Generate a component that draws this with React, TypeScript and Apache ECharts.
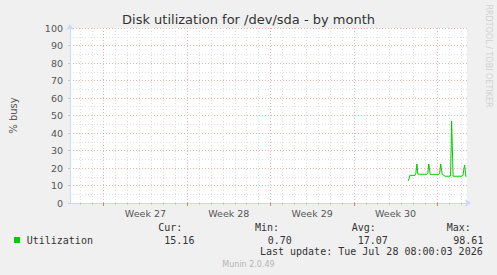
import React, { useEffect, useRef } from "react";
import * as echarts from "echarts";

const chartTitle = "Disk utilization for /dev/sda - by month";
const yAxisName = "% busy";
const weekLabels = ["Week 27", "Week 28", "Week 29", "Week 30"];
// hours relative to Monday of week 27
const weekCenters = [84, 252, 420, 588];
const weekStarts = [0, 168, 336, 504, 672];
const dayTicks = [-48, -24, 24, 48, 72, 96, 120, 144, 192, 216, 240, 264, 288, 312, 360, 384, 408, 432, 456, 480, 528, 552, 576, 600, 624, 648, 696, 720];
const xMin = -68;
const xMax = 732;

const utilHours = [614, 617, 627, 629, 631, 633, 651, 653, 655, 658, 675, 677, 679, 682, 688, 698, 699, 701, 704, 722, 724, 727, 730];
const utilValues = [12.7, 15.8, 15.8, 17, 22.3, 16.5, 16.4, 17, 22.3, 16.4, 16.4, 17, 22.3, 16.5, 15.3, 15.3, 16, 46.9, 15.3, 15.3, 16, 21.7, 15];

const legendName = "Utilization";
const statHeaders = ["Cur:", "Min:", "Avg:", "Max:"];
const statValues = ["15.16", "0.70", "17.07", "98.61"];
const lastUpdate = "Last update: Tue Jul 28 08:00:03 2026";
const footer = "Munin 2.0.49";
const sideText = "RRDTOOL / TOBI OETIKER";

const mono = '"DejaVu Sans Mono", monospace';
const sans = '"DejaVu Sans", sans-serif';

export default function App() {
  const ref = useRef<HTMLDivElement>(null);
  useEffect(() => {
    if (!ref.current) return;
    const chart = echarts.init(ref.current, null, { renderer: "svg" });
    const headerX = [158.3, 255, 351.7, 446.7];
    const valueX = [164.3, 267.7, 357.7, 453.3];
    const graphics: any[] = [
      { type: "rect", shape: { x: 14, y: 237, width: 6, height: 6 }, style: { fill: "#00cc00" } },
      { type: "text", x: 26.7, y: 240, style: { text: legendName, font: `10px ${mono}`, fill: "#333", verticalAlign: "middle" } },
      { type: "text", x: 482.7, y: 251.7, style: { text: lastUpdate, font: `10px ${mono}`, fill: "#333", align: "right", verticalAlign: "middle" } },
      { type: "text", x: 248.5, y: 264, style: { text: footer, font: `8px ${sans}`, fill: "#b4b4b4", align: "center", verticalAlign: "middle" } },
      { type: "text", x: 488.5, y: 56, rotation: -Math.PI / 2, style: { text: sideText, font: `8px ${sans}`, fill: "#d0d0d0", align: "center", verticalAlign: "middle" } },
    ];
    statHeaders.forEach((h, i) => {
      graphics.push({ type: "text", x: headerX[i], y: 227.3, style: { text: h, font: `10px ${mono}`, fill: "#333", verticalAlign: "middle" } });
      graphics.push({ type: "text", x: valueX[i], y: 240, style: { text: statValues[i], font: `10px ${mono}`, fill: "#333", verticalAlign: "middle" } });
    });
    const axisColor = "#cfd6f8";
    const minorGrid = "#e0e0e0";
    const majorGrid = "#efb2b2";
    chart.setOption({
      animation: false,
      backgroundColor: "#f0f0f0",
      title: {
        text: chartTitle,
        left: "center",
        top: 8,
        textStyle: { fontSize: 13, fontWeight: "normal", color: "#333", fontFamily: sans },
      },
      grid: { left: 67, top: 28, width: 400, height: 175, show: true, backgroundColor: "#ffffff", borderWidth: 0 },
      xAxis: [
        {
          type: "value",
          min: xMin,
          max: xMax,
          position: "bottom",
          axisLine: { show: true, onZero: false, lineStyle: { color: axisColor, width: 1 }, symbol: ["none", "arrow"], symbolSize: [6, 6], symbolOffset: [0, 4] },
          axisTick: { show: true, customValues: dayTicks, length: 2, lineStyle: { color: "#c8c8c8" } },
          axisLabel: {
            customValues: weekCenters,
            formatter: (v: number) => weekLabels[weekCenters.indexOf(v)] ?? "",
            fontSize: 9.5,
            fontFamily: sans,
            color: "#555",
            margin: 5,
          },
          splitLine: { show: true, lineStyle: { color: minorGrid, type: [1, 2], width: 1 } },
        },
        {
          type: "value",
          min: xMin,
          max: xMax,
          position: "top",
          offset: -175,
          axisLine: { show: false, onZero: false },
          axisTick: { show: true, inside: true, customValues: weekStarts, length: 3, lineStyle: { color: "#e07878" } },
          axisLabel: { show: false },
          splitLine: { show: true, lineStyle: { color: majorGrid, type: [1, 2], width: 1 } },
        },
      ],
      yAxis: {
        type: "value",
        min: 0,
        max: 100,
        interval: 10,
        name: yAxisName,
        nameLocation: "middle",
        nameGap: 52,
        nameTextStyle: { fontSize: 10, color: "#555", fontFamily: sans },
        axisLine: { show: true, onZero: false, lineStyle: { color: axisColor, width: 1 }, symbol: ["none", "arrow"], symbolSize: [6, 6], symbolOffset: [0, 4] },
        axisTick: { show: true, length: 2, lineStyle: { color: "#c8c8c8" } },
        axisLabel: { fontSize: 9.5, fontFamily: sans, color: "#555", margin: 7 },
        splitLine: { show: true, lineStyle: { color: majorGrid, type: [1, 2], width: 1 } },
        minorTick: { show: false, splitNumber: 2 },
        minorSplitLine: { show: true, lineStyle: { color: minorGrid, type: [1, 2], width: 1 } },
      },
      series: [
        {
          type: "line",
          name: legendName,
          xAxisIndex: 0,
          data: utilHours.map((h, i) => [h, utilValues[i]]),
          showSymbol: false,
          symbol: "none",
          lineStyle: { color: "#00cc00", width: 1 },
          itemStyle: { color: "#00cc00" },
        },
      ],
      graphic: graphics,
    });
    return () => chart.dispose();
  }, []);
  return <div ref={ref} style={{ position: "absolute", left: 0, top: 0, width: 497, height: 275 }} />;
}
